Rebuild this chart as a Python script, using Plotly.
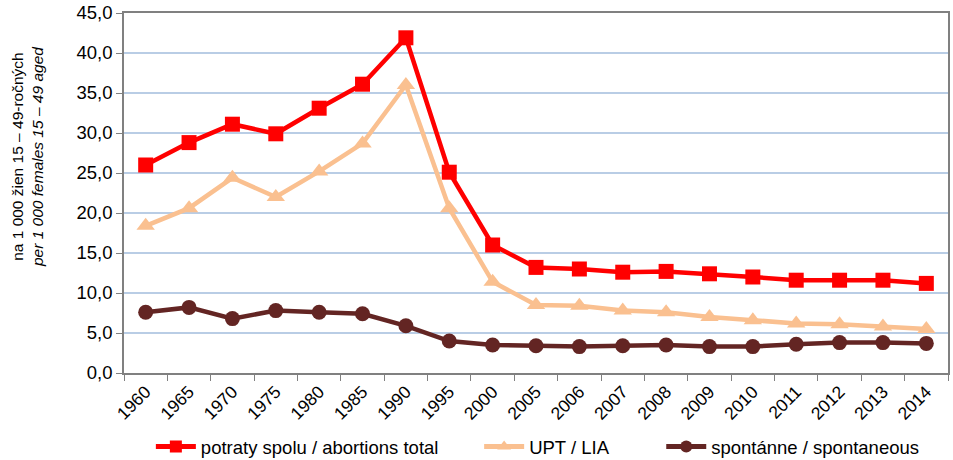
import plotly.graph_objects as go

years = ["1960", "1965", "1970", "1975", "1980", "1985", "1990", "1995", "2000", "2005",
         "2006", "2007", "2008", "2009", "2010", "2011", "2012", "2013", "2014"]
total = [26.0, 28.8, 31.1, 29.9, 33.1, 36.1, 41.9, 25.1, 16.0, 13.2,
         13.0, 12.6, 12.7, 12.4, 12.0, 11.6, 11.6, 11.6, 11.2]
upt = [18.4, 20.6, 24.4, 22.0, 25.2, 28.7, 36.0, 20.6, 11.4, 8.5,
       8.4, 7.8, 7.6, 7.0, 6.6, 6.2, 6.1, 5.8, 5.5]
spont = [7.6, 8.2, 6.8, 7.8, 7.6, 7.4, 5.9, 4.0, 3.5, 3.4,
         3.3, 3.4, 3.5, 3.3, 3.3, 3.6, 3.8, 3.8, 3.7]
yticks = [0, 5, 10, 15, 20, 25, 30, 35, 40, 45]
ytitle = "na 1 000 žien 15 – 49-ročných<br><i>per 1 000 females 15 – 49 aged</i>"

FONT = "Liberation Sans, Arial, sans-serif"

fig = go.Figure()
fig.add_trace(go.Scatter(x=years, y=total, mode="lines+markers", name="potraty spolu / abortions total",
                         line=dict(color="#FF0000", width=4.5),
                         marker=dict(symbol="square", size=15, color="#FF0000"), legend="legend"))
fig.add_trace(go.Scatter(x=years, y=upt, mode="lines+markers", name="UPT / LIA",
                         line=dict(color="#FAC090", width=4.5),
                         marker=dict(symbol="triangle-up", size=16, color="#FAC090"), legend="legend2"))
fig.add_trace(go.Scatter(x=years, y=spont, mode="lines+markers", name="spontánne / spontaneous",
                         line=dict(color="#632523", width=4.5),
                         marker=dict(symbol="circle", size=15, color="#632523"), legend="legend3"))

legend_common = dict(orientation="h", yanchor="middle", y=-0.2056, xref="paper", yref="paper",
                     font=dict(family=FONT, size=18.5, color="#000000"),
                     bgcolor="rgba(0,0,0,0)", itemwidth=40, itemsizing="constant")

fig.update_layout(
    width=953, height=460,
    margin=dict(l=124, r=5, t=13, b=87, autoexpand=False),
    paper_bgcolor="white", plot_bgcolor="white",
    separators=", ",
    showlegend=True,
    font=dict(family=FONT, size=16, color="#000000"),
    legend=dict(legend_common, x=0.0326, xanchor="left"),
    legend2=dict(legend_common, x=0.431, xanchor="left"),
    legend3=dict(legend_common, x=0.652, xanchor="left"),
    xaxis=dict(type="category", range=[-0.5, len(years) - 0.5], tickangle=-45,
               tickson="boundaries", ticks="outside",
               ticklen=6, tickcolor="#808080", showline=True, linecolor="#808080",
               linewidth=1.5, mirror=True, showgrid=False, automargin=False,
               tickfont=dict(family=FONT, size=17.5, color="#000000")),
    yaxis=dict(range=[0, 45], tickvals=yticks, tickformat=".1f", ticks="outside",
               ticklen=6, tickcolor="#808080", showline=True, linecolor="#808080",
               linewidth=1.5, mirror=True, showgrid=True, gridcolor="#B9CDE5", gridwidth=1.5,
               zeroline=False, automargin=False, ticklabeloverflow="allow",
               tickfont=dict(family=FONT, size=18.5, color="#000000")),
    annotations=[dict(text=ytitle, textangle=-90, xref="paper", yref="paper",
                      x=-0.1177, y=0.6, xanchor="center", yanchor="middle", showarrow=False,
                      font=dict(family=FONT, size=15.5, color="#000000"))],
)

fig.write_html("out.html", config={"displayModeBar": False},
               post_script="document.body.style.margin='0';document.body.style.overflow='hidden';")
